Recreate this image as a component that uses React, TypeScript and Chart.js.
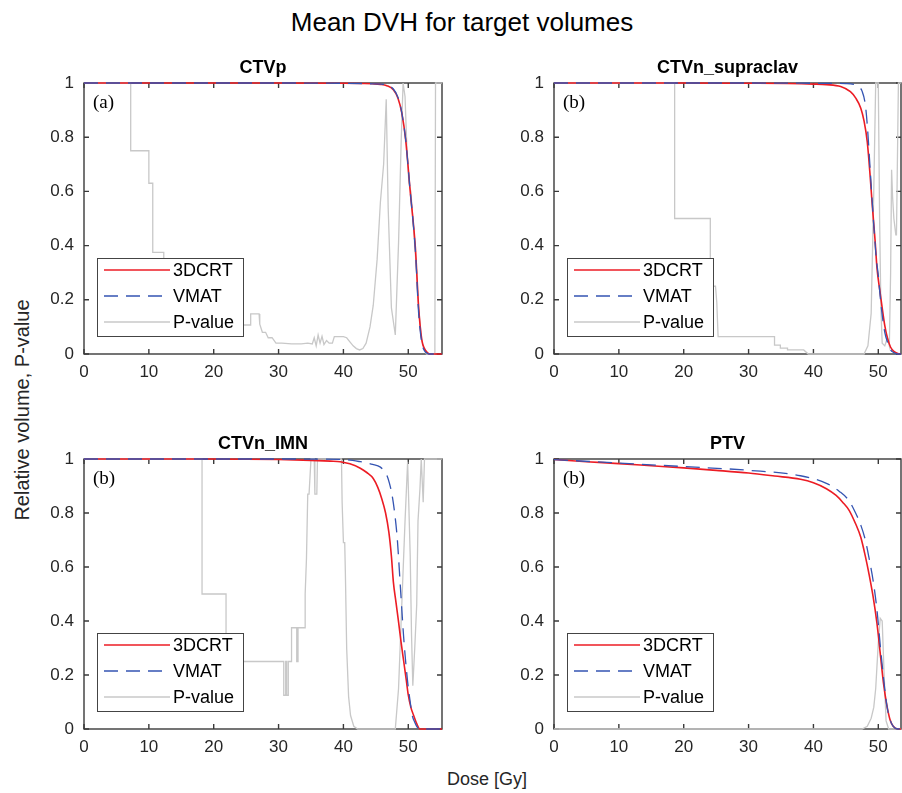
import React, { useEffect, useRef } from 'react';
import { Chart, registerables } from 'chart.js';

Chart.register(...registerables);

const FONT = '"Liberation Sans", Arial, Helvetica, sans-serif';
const SERIF = '"Liberation Serif", "DejaVu Serif", serif';

const figureTitle = 'Mean DVH for target volumes';
const xAxisTitle = 'Dose [Gy]';
const yAxisTitle = 'Relative volume, P-value';
const seriesNames = ['3DCRT', 'VMAT', 'P-value'];
const xTicks = [0, 10, 20, 30, 40, 50];
const yTicks = [0, 0.2, 0.4, 0.6, 0.8, 1];

// ---- CTVp ----
const ctvpDvhDose = [0, 10, 20, 30, 40, 43, 44.5, 45.7, 46.7, 47.7, 48.4, 49.0, 49.6, 50.3, 51.1, 51.6, 52.1, 52.5, 52.9, 53.3, 54, 55.2];
const ctvp3dcrt = [1, 1, 1, 1, 0.999, 0.998, 0.997, 0.995, 0.99, 0.975, 0.945, 0.89, 0.79, 0.6, 0.39, 0.17, 0.05, 0.02, 0.006, 0, 0, 0];
const ctvpVmat = [1, 1, 1, 1, 0.999, 0.998, 0.997, 0.996, 0.992, 0.978, 0.948, 0.89, 0.79, 0.6, 0.38, 0.15, 0.04, 0.012, 0.003, 0, 0, 0];
const ctvpPDose = [0, 7.2, 7.2, 10.0, 10.0, 10.6, 10.6, 12.3, 12.3, 16.5, 16.5, 21, 21, 24.6, 25.7, 25.7, 27.0, 27.1, 27.5, 28.0, 28.4, 29.0, 29.6, 30.5, 32, 33.5, 34.5, 35.2, 35.5, 35.8, 36.1, 36.4, 36.7, 37.0, 37.4, 37.8, 38.3, 38.6, 40.0, 40.5, 41.0, 41.5, 42.0, 42.5, 43.0, 43.5, 44.1, 44.6, 45.2, 45.7, 46.2, 46.6, 46.9, 47.4, 48.0, 48.5, 48.9, 49.2, 49.5, 49.8, 50.1, 50.4, 50.7, 51.0, 51.3, 51.6, 52.0, 52.4, 52.8, 54.1, 54.2, 55.2];
const ctvpP = [1, 1, 0.75, 0.75, 0.63, 0.63, 0.375, 0.375, 0.25, 0.25, 0.15, 0.15, 0.107, 0.107, 0.107, 0.148, 0.148, 0.11, 0.08, 0.08, 0.06, 0.06, 0.04, 0.04, 0.037, 0.037, 0.04, 0.037, 0.06, 0.03, 0.07, 0.04, 0.065, 0.035, 0.05, 0.04, 0.04, 0.064, 0.064, 0.06, 0.045, 0.03, 0.02, 0.015, 0.02, 0.04, 0.1, 0.18, 0.35, 0.56, 0.7, 0.94, 0.54, 0.17, 0.07, 0.41, 0.78, 1.0, 0.95, 0.75, 0.63, 0.6, 0.5, 0.4, 0.3, 0.17, 0.06, 0.02, 0, 0, 1, 1];

// ---- CTVn_supraclav ----
const supDvhDose = [0, 10, 20, 30, 36, 40, 42, 44.2, 45.7, 46.5, 47.3, 47.8, 48.3, 48.7, 49.1, 49.5, 49.8, 50.2, 50.6, 51.0, 51.4, 51.9, 52.4, 53, 53.5];
const sup3dcrt = [1, 1, 1, 0.999, 0.998, 0.996, 0.994, 0.987, 0.968, 0.945, 0.907, 0.86, 0.783, 0.67, 0.54, 0.42, 0.317, 0.24, 0.17, 0.105, 0.06, 0.025, 0.01, 0.002, 0];
const supVmatDose = [0, 10, 20, 30, 40, 45, 46.2, 47, 47.5, 48.0, 48.3, 48.8, 49.3, 49.7, 50.0, 50.3, 50.6, 51.0, 51.4, 51.9, 52.4, 53, 53.5];
const supVmat = [1, 1, 1, 1, 0.999, 0.998, 0.995, 0.985, 0.97, 0.92, 0.845, 0.66, 0.476, 0.35, 0.29, 0.21, 0.144, 0.08, 0.045, 0.015, 0.005, 0, 0];
const supPDose = [0, 18.6, 18.6, 24.1, 24.1, 24.5, 24.5, 24.9, 25.1, 25.3, 34.0, 34.0, 34.9, 34.9, 36.0, 36.0, 38.5, 39.2, 47.8, 48.4, 48.9, 49.3, 49.6, 50.0, 50.2, 50.4, 50.6, 51.0, 51.4, 51.7, 51.9, 52.05, 52.2, 52.4, 52.7, 52.8, 53.1, 53.5];
const supP = [1, 1, 0.5, 0.5, 0.3, 0.3, 0.25, 0.25, 0.19, 0.064, 0.064, 0.033, 0.033, 0.022, 0.022, 0.015, 0.015, 0, 0, 0.03, 0.15, 0.6, 1.0, 1.0, 0.5, 0.17, 0.04, 0.03, 0.06, 0.03, 0.3, 0.68, 0.58, 0.5, 0.44, 0.44, 1.0, 1.0];

// ---- CTVn_IMN ----
const imnCrtDose = [0, 10, 20, 30, 35, 38, 39.5, 41, 42.6, 43.6, 44.6, 45.3, 45.9, 46.5, 47.0, 47.4, 47.7, 48.1, 48.5, 48.9, 49.3, 49.7, 50.0, 50.4, 50.8, 51.3, 51.8, 55.2];
const imn3dcrt = [1, 1, 1, 0.998, 0.995, 0.992, 0.99, 0.982, 0.966, 0.95, 0.928, 0.895, 0.854, 0.8, 0.73, 0.64, 0.545, 0.47, 0.397, 0.32, 0.25, 0.18, 0.126, 0.08, 0.052, 0.02, 0, 0];
const imnVmatDose = [0, 10, 20, 30, 40, 42.6, 44.5, 45.7, 46.3, 46.7, 47.1, 47.5, 47.9, 48.3, 48.8, 49.3, 49.9, 50.3, 50.6, 51.0, 51.3, 51.8, 55.2];
const imnVmat = [1, 1, 1, 1, 0.998, 0.99, 0.98, 0.97, 0.955, 0.94, 0.91, 0.867, 0.8, 0.706, 0.52, 0.336, 0.175, 0.1, 0.052, 0.025, 0.01, 0, 0];
const imnPDose = [0, 18.2, 18.2, 21.9, 21.9, 30.8, 30.8, 31.1, 31.1, 31.25, 31.25, 31.5, 31.5, 32.0, 32.0, 32.8, 32.8, 33.0, 33.0, 34.1, 34.1, 34.3, 34.5, 34.7, 35.0, 35.5, 35.6, 35.9, 36.0, 39.7, 39.8, 40.0, 40.2, 40.3, 40.5, 40.8, 41.1, 41.6, 42.2, 48.0, 48.5, 49.0, 49.5, 49.9, 50.3, 50.5, 50.7, 51.0, 51.3, 51.5, 51.8, 52.0, 52.3, 52.5, 55.2];
const imnP = [1, 1, 0.5, 0.5, 0.25, 0.25, 0.125, 0.125, 0.25, 0.25, 0.125, 0.125, 0.25, 0.25, 0.375, 0.375, 0.25, 0.25, 0.375, 0.375, 0.5, 0.63, 0.87, 0.87, 1, 1, 0.87, 0.87, 1, 1, 0.84, 0.69, 0.69, 0.58, 0.3, 0.12, 0.05, 0.01, 0, 0, 0.15, 0.46, 0.77, 0.99, 0.64, 0.35, 0.16, 0.3, 0.46, 0.77, 0.89, 1, 0.84, 1, 1];

// ---- PTV ----
const ptvCrtDose = [0, 5, 10, 15, 20, 25, 30, 34, 38, 40, 42, 43.5, 44.5, 45.5, 46.5, 47.3, 48.0, 48.6, 49.2, 49.8, 50.3, 50.8, 51.3, 51.8, 52.3, 53, 53.5];
const ptv3dcrt = [0.998, 0.99, 0.983, 0.975, 0.967, 0.958, 0.948, 0.937, 0.925, 0.912, 0.89, 0.865, 0.84, 0.81, 0.76, 0.71, 0.64, 0.57, 0.49, 0.39, 0.28, 0.17, 0.09, 0.035, 0.01, 0, 0];
const ptvVmatDose = [0, 10, 20, 30, 38, 42, 44, 45.5, 46.5, 47.3, 48.0, 48.6, 49.2, 49.8, 50.3, 50.8, 51.3, 51.8, 52.3, 53, 53.5];
const ptvVmat = [0.998, 0.985, 0.972, 0.958, 0.938, 0.91, 0.88, 0.845, 0.8, 0.755, 0.7, 0.63, 0.55, 0.44, 0.31, 0.19, 0.09, 0.035, 0.01, 0, 0];
const ptvPDose = [0, 47.5, 48.3, 48.9, 49.3, 49.6, 50.0, 50.3, 50.6, 50.9, 51.2, 51.6, 53.5];
const ptvP = [0, 0, 0.01, 0.04, 0.08, 0.15, 0.32, 0.41, 0.4, 0.2, 0.03, 0, 0];

const COLORS = { crt: 'rgb(236,28,36)', vmat: 'rgb(52,84,178)', p: 'rgb(200,200,200)', axis: '#3a3a3a', text: '#262626' };

const YW = 70; // y axis box width
const TH = 28; // title block height
const XH = 40; // x axis box height
const PR = 1;

const panels = [
  { title: 'CTVp', tag: '(a)', xMax: 55.2, box: [84, 83, 442, 354], crtX: ctvpDvhDose, crtY: ctvp3dcrt, vmatX: ctvpDvhDose, vmatY: ctvpVmat, pX: ctvpPDose, pY: ctvpP },
  { title: 'CTVn_supraclav', tag: '(b)', xMax: 53.5, box: [554, 83, 901, 354], crtX: supDvhDose, crtY: sup3dcrt, vmatX: supVmatDose, vmatY: supVmat, pX: supPDose, pY: supP },
  { title: 'CTVn_IMN', tag: '(b)', xMax: 55.2, box: [84, 459, 442, 729], crtX: imnCrtDose, crtY: imn3dcrt, vmatX: imnVmatDose, vmatY: imnVmat, pX: imnPDose, pY: imnP },
  { title: 'PTV', tag: '(b)', xMax: 53.5, box: [554, 459, 901, 729], crtX: ptvCrtDose, crtY: ptv3dcrt, vmatX: ptvVmatDose, vmatY: ptvVmat, pX: ptvPDose, pY: ptvP },
];

const decorPlugin = {
  id: 'matlabDecor',
  beforeDatasetsDraw(chart: any) {
    const { ctx, chartArea: a, scales } = chart;
    ctx.save();
    ctx.strokeStyle = COLORS.axis;
    ctx.lineWidth = 1.4;
    ctx.strokeRect(a.left, a.top, a.right - a.left, a.bottom - a.top);
    const tl = 5;
    ctx.beginPath();
    scales.x.ticks.forEach((t: any) => {
      const px = scales.x.getPixelForValue(t.value);
      ctx.moveTo(px, a.bottom); ctx.lineTo(px, a.bottom - tl);
      ctx.moveTo(px, a.top); ctx.lineTo(px, a.top + tl);
    });
    scales.y.ticks.forEach((t: any) => {
      const py = scales.y.getPixelForValue(t.value);
      ctx.moveTo(a.left, py); ctx.lineTo(a.left + tl, py);
      ctx.moveTo(a.right, py); ctx.lineTo(a.right - tl, py);
    });
    ctx.stroke();
    ctx.restore();
  },
  afterDatasetsDraw(chart: any, _args: any, opts: any) {
    const { ctx, chartArea: a } = chart;
    ctx.save();
    // panel tag
    ctx.fillStyle = '#000';
    ctx.font = `19px ${SERIF}`;
    ctx.textBaseline = 'middle';
    ctx.textAlign = 'left';
    ctx.fillText(opts.tag, a.left + 9, a.top + 20);
    // legend (southwest)
    const w = 146, h = 78;
    const x0 = a.left + 13, y0 = a.bottom - 18 - h;
    ctx.fillStyle = '#fff';
    ctx.fillRect(x0, y0, w, h);
    ctx.strokeStyle = '#444';
    ctx.lineWidth = 1;
    ctx.strokeRect(x0 + 0.5, y0 + 0.5, w, h);
    ctx.font = `18px ${FONT}`;
    chart.data.datasets.forEach((ds: any, i: number) => {
      const y = y0 + 12 + i * 26;
      ctx.beginPath();
      ctx.strokeStyle = ds.borderColor;
      ctx.lineWidth = ds.borderWidth;
      ctx.setLineDash(ds.borderDash || []);
      ctx.moveTo(x0 + 7, y); ctx.lineTo(x0 + 73, y);
      ctx.stroke();
      ctx.setLineDash([]);
      ctx.fillStyle = '#000';
      ctx.fillText(ds.label, x0 + 76, y + 1);
    });
    ctx.restore();
  },
};

function Panel({ cfg }: { cfg: any }) {
  const ref = useRef<HTMLCanvasElement>(null);
  const [l, t, r, b] = cfg.box;
  const W = YW + (r - l) + PR;
  const H = TH + (b - t) + XH;
  useEffect(() => {
    const pts = (xs: number[], ys: number[]) => xs.map((x, i) => ({ x, y: ys[i] }));
    const chart = new Chart(ref.current as HTMLCanvasElement, {
      type: 'line',
      data: {
        datasets: [
          { label: seriesNames[0], data: pts(cfg.crtX, cfg.crtY), borderColor: COLORS.crt, borderWidth: 1.6, pointRadius: 0, cubicInterpolationMode: 'monotone', order: 1, clip: 2 } as any,
          { label: seriesNames[1], data: pts(cfg.vmatX, cfg.vmatY), borderColor: COLORS.vmat, borderWidth: 1.3, borderDash: [14, 8], pointRadius: 0, cubicInterpolationMode: 'monotone', order: 0, clip: 2 } as any,
          { label: seriesNames[2], data: pts(cfg.pX, cfg.pY), borderColor: COLORS.p, borderWidth: 1.3, pointRadius: 0, tension: 0, order: 2, clip: 1 } as any,
        ],
      },
      options: {
        responsive: false,
        animation: false,
        devicePixelRatio: 1,
        events: [],
        layout: { padding: { left: 0, right: PR, top: 0, bottom: 0 } },
        plugins: {
          legend: { display: false },
          tooltip: { enabled: false },
          title: {
            display: true, text: cfg.title, color: '#000', fullSize: false,
            font: { family: FONT, size: 18, weight: 'bold', lineHeight: 1 },
            padding: { top: 4, bottom: 6 },
          },
          matlabDecor: { tag: cfg.tag },
        } as any,
        scales: {
          x: {
            type: 'linear', min: 0, max: cfg.xMax,
            grid: { display: false, drawTicks: false },
            border: { display: false },
            ticks: { color: COLORS.text, font: { family: FONT, size: 17 }, padding: 8, maxRotation: 0, autoSkip: false },
            afterBuildTicks: (s: any) => { s.ticks = xTicks.map((v) => ({ value: v })); },
            afterFit: (s: any) => { s.height = XH; },
          },
          y: {
            type: 'linear', min: 0, max: 1,
            grid: { display: false, drawTicks: false },
            border: { display: false },
            ticks: { color: COLORS.text, font: { family: FONT, size: 17 }, padding: 10, callback: (v: any) => String(v) },
            afterBuildTicks: (s: any) => { s.ticks = yTicks.map((v) => ({ value: v })); },
            afterFit: (s: any) => { s.width = YW; },
          },
        } as any,
      },
      plugins: [decorPlugin],
    });
    return () => chart.destroy();
  }, []);
  return (
    <canvas
      ref={ref}
      width={W}
      height={H}
      style={{ position: 'absolute', left: l - YW, top: t - TH, width: W, height: H }}
    />
  );
}

export default function App() {
  return (
    <div style={{ position: 'absolute', left: 0, top: 0, width: 902, height: 793, overflow: 'hidden', background: '#fff', fontFamily: FONT }}>
      <div style={{ position: 'absolute', left: 162, top: 8, width: 600, textAlign: 'center', fontSize: 26, lineHeight: '28px', color: '#000' }}>{figureTitle}</div>
      <div style={{ position: 'absolute', left: 22 - 150, top: 410 - 12, width: 300, height: 24, lineHeight: '24px', fontSize: 20, textAlign: 'center', color: COLORS.text, transform: 'rotate(-90deg)' }}>{yAxisTitle}</div>
      <div style={{ position: 'absolute', left: 387, top: 768, width: 200, height: 22, lineHeight: '22px', fontSize: 18, textAlign: 'center', color: COLORS.text }}>{xAxisTitle}</div>
      {panels.map((p, i) => <Panel key={i} cfg={p} />)}
    </div>
  );
}
